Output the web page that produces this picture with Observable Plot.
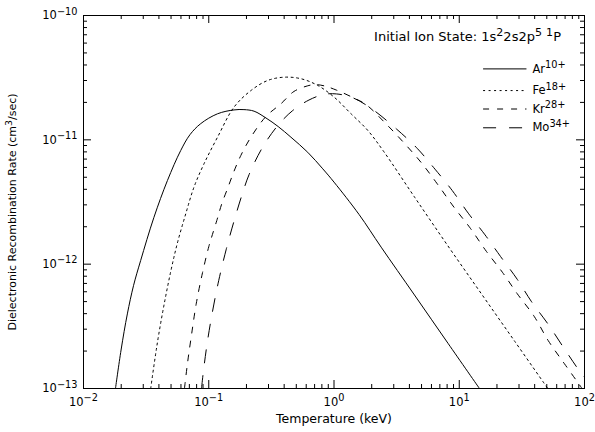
<!DOCTYPE html>
<html>
<head>
<meta charset="utf-8">
<script src="https://cdn.jsdelivr.net/npm/d3@7"></script>
<script src="https://cdn.jsdelivr.net/npm/@observablehq/plot@0.6"></script>
<style>
  html, body { margin: 0; padding: 0; background: white; }
  #chart { width: 595px; height: 432px; }
</style>
</head>
<body>
<div id="chart"></div>
<script>
// ---- data (Temperature in keV, rate in cm^3/sec) ----
const arT = [0.0180, 0.01995, 0.02239, 0.02512, 0.0286, 0.0365, 0.0468, 0.0597, 0.0708, 0.0863, 0.1175, 0.159, 0.191, 0.230, 0.286, 0.358, 0.453, 0.617, 0.813, 1.0, 1.585, 2.38, 4.39, 8.13, 14.5];
const arRate = [1.0e-13, 2.04e-13, 3.98e-13, 6.76e-13, 1.07e-12, 2.38e-12, 4.71e-12, 8.2e-12, 1.10e-11, 1.35e-11, 1.62e-11, 1.74e-11, 1.75e-11, 1.70e-11, 1.50e-11, 1.28e-11, 1.05e-11, 7.94e-12, 5.85e-12, 4.57e-12, 2.51e-12, 1.37e-12, 5.65e-13, 2.31e-13, 1.0e-13];

const feT = [0.0344, 0.0372, 0.0398, 0.0439, 0.0497, 0.0562, 0.0655, 0.0762, 0.0916, 0.1175, 0.159, 0.217, 0.295, 0.400, 0.545, 0.741, 1.005, 1.368, 1.862, 2.52, 4.39, 8.13, 15.0, 27.7, 50.9];
const feRate = [1.0e-13, 1.74e-13, 2.69e-13, 4.68e-13, 8.71e-13, 1.48e-12, 2.54e-12, 4.16e-12, 6.41e-12, 1.05e-11, 1.83e-11, 2.49e-11, 3.00e-11, 3.19e-11, 3.10e-11, 2.74e-11, 2.20e-11, 1.62e-11, 1.19e-11, 7.94e-12, 3.47e-12, 1.40e-12, 5.79e-13, 2.40e-13, 1.0e-13];

const krT = [0.0640, 0.0676, 0.0728, 0.0794, 0.0891, 0.100, 0.1052, 0.1159, 0.1265, 0.1426, 0.159, 0.1803, 0.217, 0.286, 0.377, 0.479, 0.617, 0.708, 0.832, 1.037, 1.413, 1.803, 2.52, 3.58, 4.99, 6.67, 9.08, 12.19, 16.44, 22.1, 29.1, 39.6, 51.3, 69.2, 91.2, 95.5];
const krRate = [1.0e-13, 1.585e-13, 2.69e-13, 4.79e-13, 8.51e-13, 1.38e-12, 1.64e-12, 2.24e-12, 3.02e-12, 4.16e-12, 5.58e-12, 7.48e-12, 1.05e-11, 1.54e-11, 1.95e-11, 2.45e-11, 2.72e-11, 2.78e-11, 2.72e-11, 2.52e-11, 2.19e-11, 1.92e-11, 1.39e-11, 9.57e-12, 6.53e-12, 4.43e-12, 2.87e-12, 1.96e-12, 1.27e-12, 8.61e-13, 5.77e-13, 3.81e-13, 2.43e-13, 1.58e-13, 1.07e-13, 1.0e-13];

const moT = [0.0875, 0.0912, 0.0977, 0.1072, 0.1202, 0.138, 0.1585, 0.182, 0.210, 0.269, 0.355, 0.468, 0.631, 0.832, 1.047, 1.413, 1.995, 3.16, 4.61, 6.40, 8.79, 11.8, 16.07, 21.4, 29.0, 37.8, 50.8, 66.7, 89.1, 100];
const moRate = [1.0e-13, 1.445e-13, 2.40e-13, 4.17e-13, 7.41e-13, 1.32e-12, 2.19e-12, 3.47e-12, 5.26e-12, 8.71e-12, 1.30e-11, 1.72e-11, 2.09e-11, 2.32e-11, 2.34e-11, 2.18e-11, 1.78e-11, 1.22e-11, 8.55e-12, 5.81e-12, 3.91e-12, 2.57e-12, 1.72e-12, 1.15e-12, 7.57e-13, 4.98e-13, 3.33e-13, 2.20e-13, 1.43e-13, 1.23e-13];

const ionNames = ["Ar", "Fe", "Kr", "Mo"];
const ionLabels = ["Ar^{10+}", "Fe^{18+}", "Kr^{28+}", "Mo^{34+}"];
const legendTitle = "Initial Ion State: 1s^{2}2s2p^{5} ^{1}P";

const xTickValues = [1e-2, 1e-1, 1e0, 1e1, 1e2];
const xTickLabels = ["10^{−2}", "10^{−1}", "10^{0}", "10^{1}", "10^{2}"];
const yTickValues = [1e-13, 1e-12, 1e-11, 1e-10];
const yTickLabels = ["10^{−13}", "10^{−12}", "10^{−11}", "10^{−10}"];

const xTitle = "Temperature (keV)";
const yTitle = "Dielectronic Recombination Rate (cm^{3}/sec)";

// ---- styles / layout (not data) ----
const dashes = [null, "2,3.5", "6,8", "13,13"];
const W = 595, H = 432, mL = 83, mR = 11, mT = 15, mB = 44;
const fw = W - mL - mR, fh = H - mT - mB;
// legend placement expressed in the chart's data space
const legendX1 = 15.5, legendX2 = 34.4, legendLabelX = 38.4;
const legendRowY = [3.72e-11, 2.49e-11, 1.77e-11, 1.25e-11];
const legendTitleX = 2.09, legendTitleY = 6.68e-11;

// ---- build tables ----
const seriesT = [arT, feT, krT, moT];
const seriesR = [arRate, feRate, krRate, moRate];
const series = ionNames.map((ion, i) => ({
  ion,
  rows: seriesT[i].map((t, j) => ({ion, T: t, rate: seriesR[i][j]}))
}));
const legendRows = ionNames.map((ion, i) => ({ion, label: ionLabels[i], y: legendRowY[i]}));

const minorX = [], minorY = [];
for (let e = -2; e < 2; e++) for (let m = 2; m <= 9; m++) minorX.push(m * 10 ** e);
for (let e = -13; e < -10; e++) for (let m = 2; m <= 9; m++) minorY.push(m * 10 ** e);

const minorLen = 4, majorLen = 8;

const marks = [
  Plot.frame({stroke: "black", strokeWidth: 1}),
  // inward ticks on all four sides
  Plot.ruleX(minorX, {x: d => d, insetTop: fh - minorLen, stroke: "black"}),
  Plot.ruleX(minorX, {x: d => d, insetBottom: fh - minorLen, stroke: "black"}),
  Plot.ruleX(xTickValues, {x: d => d, insetTop: fh - majorLen, stroke: "black"}),
  Plot.ruleX(xTickValues, {x: d => d, insetBottom: fh - majorLen, stroke: "black"}),
  Plot.ruleY(minorY, {y: d => d, insetRight: fw - minorLen, stroke: "black"}),
  Plot.ruleY(minorY, {y: d => d, insetLeft: fw - minorLen, stroke: "black"}),
  Plot.ruleY(yTickValues, {y: d => d, insetRight: fw - majorLen, stroke: "black"}),
  Plot.ruleY(yTickValues, {y: d => d, insetLeft: fw - majorLen, stroke: "black"}),
  // tick labels
  Plot.text(xTickValues, {x: d => d, text: (d, i) => xTickLabels[i], frameAnchor: "bottom", textAnchor: "middle", dy: 17, fontSize: 11.5, fill: "black"}),
  Plot.text(yTickValues, {y: d => d, text: (d, i) => yTickLabels[i], frameAnchor: "left", textAnchor: "end", dx: -6, fontSize: 11.5, fill: "black"}),
  // axis titles
  Plot.text([xTitle], {text: d => d, frameAnchor: "bottom", textAnchor: "middle", dy: 34, fontSize: 12.5, fill: "black"}),
  Plot.text([yTitle], {text: d => d, frameAnchor: "left", textAnchor: "middle", rotate: -90, dx: -71, dy: 10, fontSize: 11, fill: "black"}),
];

series.forEach((s, i) => {
  marks.push(Plot.line(s.rows, {x: "T", y: "rate", curve: "catmull-rom", stroke: "black", strokeWidth: 1, strokeDasharray: dashes[i] || undefined, clip: true}));
  marks.push(Plot.link([legendRows[i]], {x1: () => legendX1, x2: () => legendX2, y1: "y", y2: "y", stroke: "black", strokeWidth: 1, strokeDasharray: dashes[i] || undefined}));
});
marks.push(Plot.text(legendRows, {x: () => legendLabelX, y: "y", text: "label", textAnchor: "start", fontSize: 11.5, fill: "black"}));
marks.push(Plot.text([legendTitle], {x: () => legendTitleX, y: () => legendTitleY, text: d => d, textAnchor: "start", fontSize: 13, fill: "black"}));

const chart = Plot.plot({
  width: W, height: H,
  marginLeft: mL, marginRight: mR, marginTop: mT, marginBottom: mB,
  x: {type: "log", domain: [1e-2, 1e2], axis: null},
  y: {type: "log", domain: [1e-13, 1e-10], axis: null},
  style: {fontFamily: "'DejaVu Sans', sans-serif", background: "white", color: "black", overflow: "visible"},
  marks
});

// turn "a^{b}" into real superscript tspans
function richify(svg) {
  svg.querySelectorAll("text").forEach(t => {
    const s = t.textContent;
    if (!s.includes("^{")) return;
    const parts = [];
    const re = /\^\{([^}]*)\}/g;
    let last = 0, m;
    while ((m = re.exec(s))) {
      if (m.index > last) parts.push({text: s.slice(last, m.index), sup: false});
      parts.push({text: m[1], sup: true});
      last = re.lastIndex;
    }
    if (last < s.length) parts.push({text: s.slice(last), sup: false});
    while (t.firstChild) t.removeChild(t.firstChild);
    const ns = "http://www.w3.org/2000/svg";
    let raised = false;
    parts.forEach(p => {
      const ts = document.createElementNS(ns, "tspan");
      ts.textContent = p.text;
      if (p.sup) {
        ts.setAttribute("font-size", "85%");
        if (!raised) ts.setAttribute("dy", "-0.45em");
        raised = true;
      } else if (raised) {
        ts.setAttribute("dy", "0.38em");
        raised = false;
      }
      t.appendChild(ts);
    });
  });
}
richify(chart);
document.getElementById("chart").appendChild(chart);
</script>
</body>
</html>
